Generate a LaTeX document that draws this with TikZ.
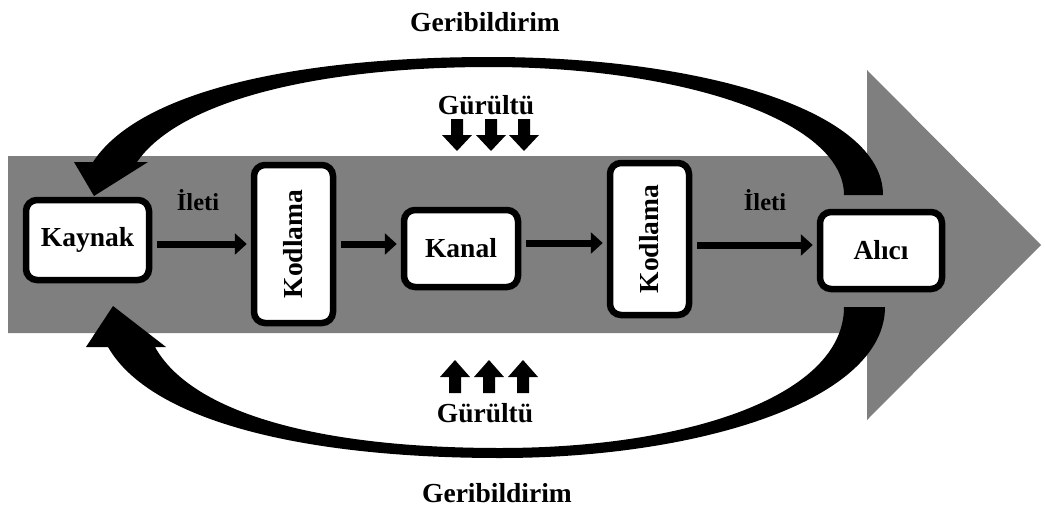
\documentclass[tikz,border=0pt]{standalone}
\usepackage{fontspec}
\setmainfont{Liberation Serif}
\usepackage{graphicx}
\usetikzlibrary{arrows.meta, shadows}

\definecolor{bandgray}{RGB}{127,127,127}

\tikzset{
  block/.style={draw, line width=6.5pt, rounded corners=11pt, fill=white, inner sep=0pt,
    font=\bfseries\fontsize{27.5}{30}\selectfont,
    drop shadow={opacity=0.25, shadow xshift=2pt, shadow yshift=-3pt}},
  flow/.style={line width=7pt, shorten <=5pt, shorten >=4pt, -{Triangle[length=12pt, width=21pt]}},
  lbl/.style={font=\bfseries\fontsize{27.5}{30}\selectfont},
  msg/.style={font=\bfseries\fontsize{24.5}{26}\selectfont}
}

\begin{document}
\begin{tikzpicture}[x=1pt, y=-1pt]
    \useasboundingbox (0,0) rectangle (1045,509);

    % Big gray arrow in the background
    \fill[bandgray] (8,156) -- (867,156) -- (867,70) -- (1041,245) -- (867,420)
        -- (867,333) -- (8,333) -- cycle;

    % Feedback arrows (top and bottom)
    \fill (93,162) .. controls (140,90) and (300,57) .. (490,57)
        .. controls (700,57) and (883,110) .. (883,195) -- (844,195)
        .. controls (844,120) and (680,67) .. (490,67)
        .. controls (320,67) and (180,100) .. (137,162)
        -- (148,162) -- (94,196) -- (74,162) -- cycle;
    \fill (108,347) .. controls (150,420) and (300,458) .. (500,458)
        .. controls (700,458) and (885,400) .. (885,307) -- (844,307)
        .. controls (844,395) and (690,448) .. (500,448)
        .. controls (310,448) and (190,410) .. (155,347)
        -- (166,347) -- (113,306) -- (86,347) -- cycle;

    % Noise arrows
    \foreach \x in {457,491,524}
        \fill ({\x-6},119) -- ({\x+6},119) -- ({\x+6},135) -- ({\x+15},135)
            -- (\x,151) -- ({\x-15},135) -- ({\x-6},135) -- cycle;
    \foreach \x in {455,489,523}
        \fill ({\x-6},393) -- ({\x+6},393) -- ({\x+6},377) -- ({\x+15},377)
            -- (\x,360) -- ({\x-15},377) -- ({\x-6},377) -- cycle;

    % Boxes
    \node[block, minimum width=123pt, minimum height=80pt] (kaynak) at (87.5,240) {Kaynak};
    \node[block, minimum width=79pt, minimum height=158pt] (kod1) at (293.5,244) {\rotatebox{90}{Kodlama}};
    \node[block, minimum width=114pt, minimum height=77pt] (kanal) at (461,248.5) {Kanal};
    \node[block, minimum width=79pt, minimum height=152pt] (kod2) at (649.5,239) {\rotatebox{90}{Kodlama}};
    \node[block, minimum width=122pt, minimum height=77pt] (alici) at (881,250.5) {Alıcı};

    % Message flow
    \coordinate (k3) at ([yshift=5.5pt]kanal.east);
    \coordinate (a4) at ([yshift=5.5pt]alici.west);
    \draw[flow] (kaynak.east |- kod1.west) -- (kod1.west);
    \draw[flow] (kod1.east) -- (kod1.east -| kanal.west);
    \draw[flow] (k3) -- (k3 -| kod2.west);
    \draw[flow] (kod2.east |- a4) -- (a4);

    % Labels
    \node[lbl] (fbtop) at (485,22) {Geribildirim};
    \node[lbl] (fbbot) at (497,493) {Geribildirim};
    \node[lbl] (noisetop) at (486,105) {Gürültü};
    \node[lbl] (noisebot) at (485,413) {Gürültü};
    \node[msg] (msg1) at (198,200) {İleti};
    \node[msg] (msg2) at (765,200) {İleti};
\end{tikzpicture}
\end{document}
